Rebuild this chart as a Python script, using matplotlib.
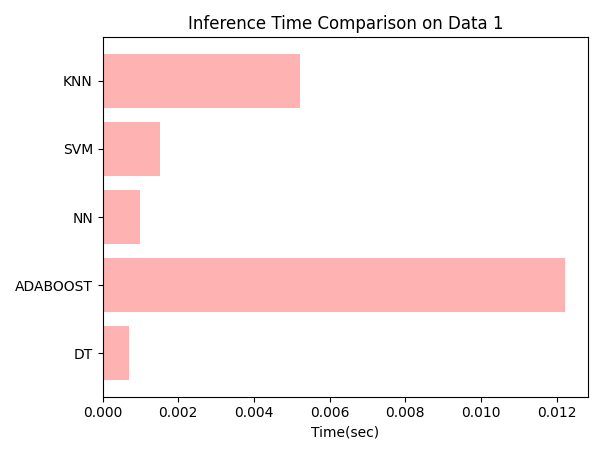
import matplotlib.pyplot as plt

# Model names and inference times (seconds)
models = ['DT', 'ADABOOST', 'NN', 'SVM', 'KNN']
times = [0.00071, 0.01222, 0.00100, 0.00151, 0.00522]

plt.figure(figsize=(6.03, 4.55), dpi=100)
plt.barh(models, times, color='red', alpha=0.3)
plt.xlabel('Time(sec)')
plt.title('Inference Time Comparison on Data 1')
plt.tight_layout()
plt.savefig("out.png")
